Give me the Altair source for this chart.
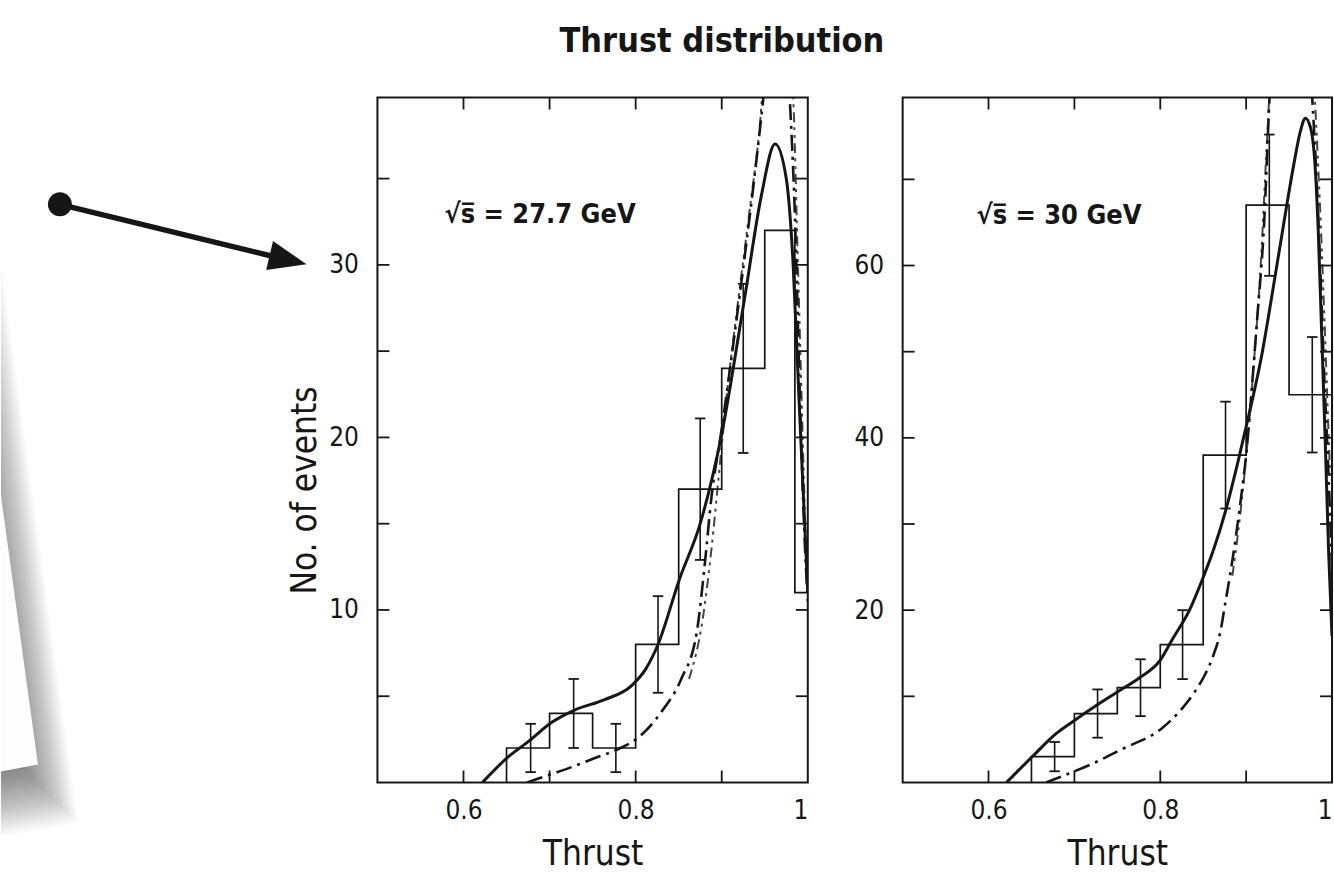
import altair as alt
import pandas as pd

FONT = "DejaVu Sans Condensed, Liberation Sans Narrow, DejaVu Sans, sans-serif"
INK = "#161616"

# ------------------------------------------------------------------ data
# shared axis ticks / labels
X_TICKS = [0.6, 0.7, 0.8, 0.9]
X_LABELS = [0.6, 0.8, 1.0]

# left panel : sqrt(s) = 27.7 GeV
L_edges = [0.65, 0.70, 0.75, 0.80, 0.85, 0.90, 0.95, 0.985, 1.0]
L_counts = [2, 4, 2, 8, 17, 24, 32, 11]
L_err_x = [0.678, 0.728, 0.777, 0.826, 0.875, 0.925]
L_err_lo = [0.6, 2.0, 0.6, 5.2, 12.9, 19.1]
L_err_hi = [3.4, 6.0, 3.4, 10.8, 21.1, 28.9]
L_solid_x = [0.622, 0.650, 0.676, 0.703, 0.729, 0.764, 0.795, 0.812, 0.826, 0.851,
             0.875, 0.900, 0.927, 0.946, 0.962, 0.975, 0.983, 0.990, 0.996, 1.000]
L_solid_y = [0.0, 1.4, 2.4, 3.5, 4.2, 4.8, 5.6, 6.6, 8.0, 11.8,
             15.0, 20.2, 28.2, 34.0, 37.0, 35.0, 30.0, 22.0, 15.4, 11.0]
L_dd_x = [0.674, 0.700, 0.726, 0.752, 0.778, 0.803, 0.830, 0.853, 0.871, 0.880, 0.888,
          0.900, 0.915, 0.928, 0.942, 0.950, 0.965, 0.979, 0.985, 0.991, 0.996, 1.000]
L_dd_y = [0.0, 0.45, 0.9, 1.4, 1.9, 2.6, 4.1, 6.0, 8.7, 12.5, 16.5,
          20.5, 26.0, 31.0, 36.8, 40.5, 50.0, 39.7, 32.9, 22.0, 14.5, 10.5]
L_dd2_x = [0.862, 0.878, 0.888, 0.897, 0.906, 0.918, 0.932, 0.945, 0.960,
           0.983, 0.988, 0.993, 0.997, 1.000]
L_dd2_y = [6.0, 9.5, 13.5, 18.0, 22.5, 27.5, 33.0, 38.5, 50.0,
           39.7, 31.0, 22.0, 15.0, 11.0]
L_ymax = 39.7
L_yticks = [5, 10, 15, 20, 25, 30, 35]
L_ylabels = [10, 20, 30]
L_note = "√s̅ = 27.7 GeV"

# right panel : sqrt(s) = 30 GeV
R_edges = [0.65, 0.70, 0.75, 0.80, 0.85, 0.90, 0.95, 1.0]
R_counts = [3, 8, 11, 16, 38, 67, 45]
R_err_x = [0.677, 0.727, 0.777, 0.826, 0.876, 0.927, 0.977]
R_err_lo = [1.3, 5.2, 7.7, 12.0, 31.8, 58.8, 38.3]
R_err_hi = [4.7, 10.8, 14.3, 20.0, 44.2, 75.2, 51.7]
R_solid_x = [0.621, 0.652, 0.679, 0.700, 0.725, 0.750, 0.775, 0.800, 0.814, 0.834,
             0.848, 0.862, 0.876, 0.890, 0.904, 0.918, 0.930, 0.944, 0.956, 0.963,
             0.969, 0.975, 0.980, 0.984, 0.988, 0.992, 0.996, 1.000]
R_solid_y = [0.0, 3.1, 5.7, 7.2, 8.9, 10.5, 12.1, 14.2, 16.6, 20.0,
             23.3, 27.0, 31.5, 37.0, 43.0, 49.5, 56.5, 65.0, 72.0, 75.5,
             77.1, 76.0, 72.0, 64.0, 52.0, 40.0, 27.0, 17.0]
R_dd_x = [0.667, 0.690, 0.717, 0.756, 0.802, 0.822, 0.840, 0.852, 0.862, 0.870, 0.876,
          0.882, 0.888, 0.894, 0.900, 0.906, 0.913, 0.921, 0.927, 0.950, 0.977, 0.983,
          0.987, 0.991, 0.995, 1.000]
R_dd_y = [0.0, 0.9, 2.0, 3.9, 6.3, 8.2, 10.5, 12.5, 14.8, 17.5, 21.0,
          24.5, 28.5, 33.0, 38.0, 45.0, 54.0, 65.0, 79.0, 110.0, 79.4, 68.0,
          58.0, 47.0, 38.0, 25.0]
R_dd2_x = [0.884, 0.893, 0.902, 0.910, 0.917, 0.923, 0.950, 0.980, 0.986, 0.990, 0.994, 0.998]
R_dd2_y = [24.0, 31.0, 40.0, 50.0, 60.0, 72.0, 110.0, 79.4, 67.0, 57.0, 46.0, 35.0]
R_ymax = 79.5
R_yticks = [10, 20, 30, 40, 50, 60, 70]
R_ylabels = [20, 40, 60]
R_note = "√s̅ = 30 GeV"

TITLE = "Thrust  distribution"
X_TITLE = "Thrust"
Y_TITLE = "No. of events"

# ------------------------------------------------------------------ layout constants
PLOT_W1, PLOT_W2, PLOT_H = 431, 430, 686
TICK_LEN = 12


def data_panel(edges, counts, err_x, err_lo, err_hi, curves, ymax, yticks, ylabels,
               note, note_x, note_y, w, ytitle):
    xs = alt.Scale(domain=[0.5, 1.0], nice=False, zero=False)
    ys = alt.Scale(domain=[0, ymax], nice=False, zero=False)

    x_axis = alt.Axis(values=X_LABELS, format="~g", labelFontSize=26,
                      labelBaseline="alphabetic", labelPadding=36, ticks=False, tickSize=0,
                      domain=False, grid=False, title=X_TITLE, titleFontSize=35,
                      titleFontWeight="normal", titleY=82, titleBaseline="alphabetic")
    y_kw = dict(values=ylabels, labelFontSize=26, labelPadding=19,
                ticks=False, tickSize=0, domain=False, grid=False)
    if ytitle:
        y_axis = alt.Axis(title=ytitle, titleFontSize=35, titleFontWeight="normal", titleX=-73,
                          titleY=393, titleAngle=270, titleAlign="center",
                          titleBaseline="middle", **y_kw)
    else:
        y_axis = alt.Axis(title=None, **y_kw)

    def X(f):
        return alt.X(f"{f}:Q", scale=xs, axis=x_axis)

    def Y(f):
        return alt.Y(f"{f}:Q", scale=ys, axis=y_axis)

    pts = [{"x": edges[0], "y": 0, "i": 0}]
    for k, c in enumerate(counts):
        pts.append({"x": edges[k], "y": c, "i": len(pts)})
        pts.append({"x": edges[k + 1], "y": c, "i": len(pts)})
    hist = alt.Chart(pd.DataFrame(pts)).mark_line(
        color=INK, strokeWidth=1.7, clip=True).encode(x=X("x"), y=Y("y"), order="i:Q")

    layers = [hist]
    for cx, cy, style in curves:
        df = pd.DataFrame({"x": cx, "y": cy})
        layers.append(alt.Chart(df).mark_line(clip=True, color=INK, interpolate="monotone",
                                              **style).encode(x=X("x"), y=Y("y")))

    edf = pd.DataFrame({"x": err_x, "lo": err_lo, "hi": err_hi})
    layers.append(alt.Chart(edf).mark_rule(color=INK, strokeWidth=1.6, clip=True).encode(
        x=X("x"), y=Y("lo"), y2="hi:Q"))
    for col in ("lo", "hi"):
        layers.append(alt.Chart(edf).mark_point(
            shape="M-1,0L1,0", size=110, filled=False, color=INK, strokeWidth=1.8,
            opacity=1).encode(x=X("x"), y=Y(col)))

    xt = pd.DataFrame({"v": X_TICKS})
    yt = pd.DataFrame({"v": yticks})
    layers.append(alt.Chart(xt).mark_rule(color=INK, strokeWidth=1.8).encode(
        x=X("v"), y=alt.value(PLOT_H), y2=alt.value(PLOT_H - TICK_LEN)))
    layers.append(alt.Chart(xt).mark_rule(color=INK, strokeWidth=1.8).encode(
        x=X("v"), y=alt.value(0), y2=alt.value(TICK_LEN)))
    layers.append(alt.Chart(yt).mark_rule(color=INK, strokeWidth=1.8).encode(
        y=Y("v"), x=alt.value(0), x2=alt.value(TICK_LEN)))
    layers.append(alt.Chart(yt).mark_rule(color=INK, strokeWidth=1.8).encode(
        y=Y("v"), x=alt.value(w), x2=alt.value(w - TICK_LEN)))

    ndf = pd.DataFrame({"x": [note_x], "y": [note_y], "t": [note]})
    layers.append(alt.Chart(ndf).mark_text(
        align="left", baseline="alphabetic", font=FONT, fontSize=27, fontWeight="bold",
        color=INK).encode(x=X("x"), y=Y("y"), text="t:N"))
    return alt.layer(*layers)


SOLID = dict(strokeWidth=3.0)
DASHDOT = dict(strokeWidth=2.6, strokeDash=[16, 6, 3, 6])
DASHDOT2 = dict(strokeWidth=2.0, strokeDash=[10, 5, 3, 5, 3, 5], opacity=0.8)

left = data_panel(L_edges, L_counts, L_err_x, L_err_lo, L_err_hi,
                  [(L_solid_x, L_solid_y, SOLID), (L_dd_x, L_dd_y, DASHDOT),
                   (L_dd2_x, L_dd2_y, DASHDOT2)],
                  L_ymax, L_yticks, L_ylabels, L_note, 0.578, 32.4, PLOT_W1, Y_TITLE)
right = data_panel(R_edges, R_counts, R_err_x, R_err_lo, R_err_hi,
                   [(R_solid_x, R_solid_y, SOLID), (R_dd_x, R_dd_y, DASHDOT),
                    (R_dd2_x, R_dd2_y, DASHDOT2)],
                   R_ymax, R_yticks, R_ylabels, R_note, 0.586, 64.8, PLOT_W2, None)

# ------------------------------------------------------------------ decoration (page pixels)
PX = alt.Scale(domain=[377, 808], nice=False, zero=False)
PY = alt.Scale(domain=[95, 781], nice=False, zero=False, reverse=True)


def pxy(xf="x", yf="y"):
    return dict(x=alt.X(f"{xf}:Q", scale=PX, axis=None), y=alt.Y(f"{yf}:Q", scale=PY, axis=None))


canvas = alt.Chart(pd.DataFrame([{"x": 0, "x2": 1334, "y": 0, "y2": 876}])).mark_rect(
    opacity=0).encode(x2="x2:Q", y2="y2:Q", **pxy())

CORNER = (37, 763)
BL_Y = 770
EDGE_SLOPE = 0.1375
OX, OY = 0, 18
SPREADS = list(range(-18, 42, 2))
rows = []
for s in SPREADS:
    cx, cy = CORNER[0] + OX + s, CORNER[1] + OY + s
    if cx <= 0:
        continue
    ytop = cy - cx / EDGE_SLOPE
    xtop = 0
    if ytop < 0:
        xtop = cx - cy * EDGE_SLOPE
        ytop = 0
    ybl = cy + cx * (BL_Y - CORNER[1]) / CORNER[0]
    rows += [dict(layer=s, y=ytop, x=0, x2=xtop), dict(layer=s, y=cy, x=0, x2=cx),
             dict(layer=s, y=ybl, x=0, x2=0)]
shadow = alt.Chart(pd.DataFrame(rows)).mark_area(
    orient="horizontal", color="black", opacity=0.021).encode(
    x=alt.X("x:Q", scale=PX, axis=None, stack=None), x2="x2:Q",
    y=alt.Y("y:Q", scale=PY, axis=None), detail="layer:N")

page_rows = [dict(y=CORNER[1] - CORNER[0] / EDGE_SLOPE, x=0, x2=0),
             dict(y=CORNER[1], x=0, x2=CORNER[0]), dict(y=BL_Y, x=0, x2=0)]
page = alt.Chart(pd.DataFrame(page_rows)).mark_area(
    orient="horizontal", color="#fdfdfd", opacity=1).encode(
    x=alt.X("x:Q", scale=PX, axis=None, stack=None), x2="x2:Q",
    y=alt.Y("y:Q", scale=PY, axis=None))

arrow_line = alt.Chart(pd.DataFrame([{"x": 59, "y": 202, "x2": 272, "y2": 254}])).mark_rule(
    color=INK, strokeWidth=5.5).encode(x2="x2:Q", y2="y2:Q", **pxy())
arrow_dot = alt.Chart(pd.DataFrame([{"x": 59, "y": 202}])).mark_point(
    shape="circle", filled=True, size=576, color=INK, opacity=1).encode(**pxy())
arrow_head = alt.Chart(pd.DataFrame([{"x": 287.5, "y": 257.6}])).mark_point(
    shape="M1,0L-1,-0.78L-1,0.78Z", filled=True, size=1444, angle=13.3, color=INK,
    opacity=1).encode(**pxy())
title = alt.Chart(pd.DataFrame([{"x": 722, "y": 49, "t": TITLE}])).mark_text(
    align="center", baseline="alphabetic", font=FONT, fontSize=34, fontWeight="bold",
    color=INK).encode(text="t:N", **pxy())

deco = alt.layer(canvas, shadow, page, arrow_line, arrow_dot, arrow_head, title)

p1 = alt.layer(deco, left).resolve_scale(x="independent", y="independent").properties(
    width=PLOT_W1, height=PLOT_H)
p2 = right.properties(width=PLOT_W2, height=PLOT_H)

chart = alt.hconcat(p1, p2, spacing=95, bounds="flush").properties(
    padding=0, background="white").configure_view(
    stroke=INK, strokeWidth=2).configure_axis(
    labelFont=FONT, titleFont=FONT, labelColor=INK, titleColor=INK)

chart.save("out.html", embed_options={"renderer": "svg", "actions": False})
